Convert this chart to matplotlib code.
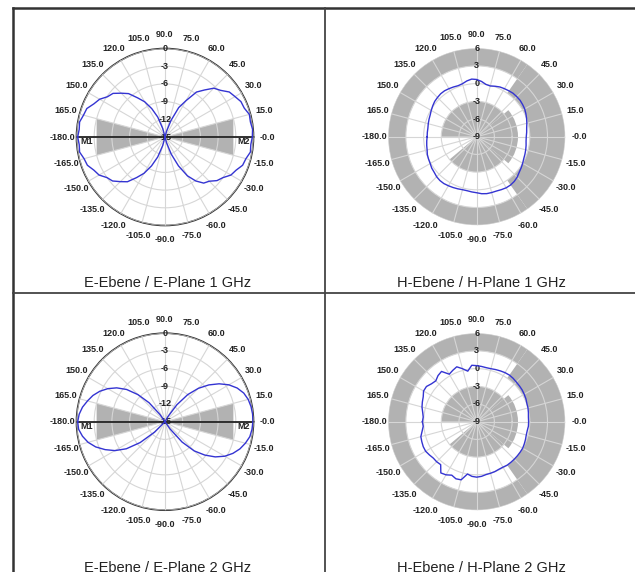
import numpy as np
import matplotlib
matplotlib.use("Agg")
import matplotlib.pyplot as plt
from matplotlib.lines import Line2D

plt.rcParams['font.family'] = ['Liberation Sans', 'DejaVu Sans']

"""
---------- DADOS (lidos da figura)
"""
angulos = list(range(-180, 180, 5))  # graus, passo 5

# E-Ebene 1 GHz, dB (curva ruidosa)
e_1ghz = [-0.2, -0.4, -0.3, -0.8, -1.0, -1.7, -2.1, -3.0, -3.4, -4.3, -5.1, -6.6,
          -7.9, -9.6, -11.4, -13.5, -15.0, -15.0, -15.0, -15.0, -15.0, -14.0, -11.9, -9.6,
          -7.4, -5.9, -4.8, -4.4, -3.5, -3.0, -2.1, -1.7, -1.0, -0.8, -0.3, -0.4,
          -0.2, -0.1, -0.3, -0.2, -0.7, -0.8, -1.3, -1.7, -2.7, -3.3, -4.6, -5.7,
          -7.9, -9.5, -12.0, -14.0, -15.0, -15.0, -15.0, -15.0, -15.0, -13.5, -11.4, -9.7,
          -8.1, -6.9, -5.4, -4.5, -3.5, -3.1, -2.2, -1.7, -0.9, -0.7, -0.3, -0.4]

# E-Ebene 2 GHz, dB
e_2ghz = [-0.2, -0.3, -0.8, -1.5, -2.5, -3.8, -5.2, -7.0, -9.5, -12.5, -15.0, -15.0,
          -15.0, -15.0, -15.0, -15.0, -15.0, -15.0, -15.0, -15.0, -15.0, -15.0, -15.0, -15.0,
          -15.0, -13.5, -10.5, -8.0, -6.2, -4.6, -3.3, -2.3, -1.5, -0.9, -0.4, -0.2,
          -0.1, -0.1, -0.2, -0.4, -0.8, -1.5, -2.5, -3.8, -5.3, -7.0, -9.0, -11.5,
          -14.0, -15.0, -15.0, -15.0, -15.0, -15.0, -15.0, -15.0, -15.0, -15.0, -15.0, -15.0,
          -15.0, -13.5, -10.8, -8.5, -6.5, -5.0, -3.8, -2.8, -2.0, -1.4, -0.8, -0.4]

# H-Ebene 1 GHz, dB
h_1ghz = [-0.6, -0.5, -0.4, -0.3, -0.1, 0.0, 0.1, 0.3, 0.4, 0.6, 0.7, 0.7,
          0.6, 0.5, 0.4, 0.3, 0.3, 0.4, 0.5, 0.7, 0.8, 0.8, 0.8, 0.9,
          1.0, 1.0, 0.9, 0.7, 0.4, 0.2, 0.0, -0.2, -0.3, -0.4, -0.5, -0.6,
          -0.6, -0.5, -0.4, -0.2, 0.0, 0.2, 0.4, 0.5, 0.6, 0.6, 0.6, 0.5,
          0.4, 0.3, 0.1, -0.1, 0.0, 0.4, 0.7, 0.8, 0.6, 0.3, 0.2, 0.3,
          0.4, 0.5, 0.5, 0.4, 0.3, 0.1, -0.1, -0.3, -0.4, -0.5, -0.6, -0.6]

# H-Ebene 2 GHz, dB
h_2ghz = [0.2, 0.1, 0.4, 0.8, 0.9, 1.0, 1.0, 0.8, 0.6, 0.6, 0.5, 1.6,
          1.4, 1.0, 1.3, 1.2, 0.0, 0.3, 0.4, 0.3, 0.1, 0.05, 0.0, -0.1,
          -0.1, 0.0, 0.0, 0.0, 0.0, 0.0, 0.0, -0.1, -0.2, -0.3, -0.3, -0.2,
          -0.2, -0.2, -0.1, 0.0, 0.05, 0.2, 0.3, 0.4, 0.45, 0.5, 0.6, 0.65,
          0.6, 0.5, 0.4, 0.3, 0.3, 0.4, 0.5, 0.6, -0.3, 0.3, 0.9, 0.6,
          0.3, 1.4, 1.2, 0.8, 1.0, 1.4, 1.4, 1.0, 0.8, 0.6, 0.3, 0.1]

# rotulos angulares
ang_ticks = list(range(-180, 180, 15))
ang_labels = ['-180.0', '-165.0', '-150.0', '-135.0', '-120.0', '-105.0', '-90.0', '-75.0',
              '-60.0', '-45.0', '-30.0', '-15.0', '-0.0', '15.0', '30.0', '45.0',
              '60.0', '75.0', '90.0', '105.0', '120.0', '135.0', '150.0', '165.0']

# escalas radiais
e_rticks = [-15, -12, -9, -6, -3, 0]
h_rticks = [-9, -6, -3, 0, 3, 6]

# mascara E: setores (graus) e nivel (dB)
e_mask_ang = [[-15, 15], [165, 195]]
e_mask_db = -3

# mascara H: limite superior e inferior por setor (graus de..ate, dB)
h_max_sect = [[55, 305, 3], [-55, 55, 0]]
h_min_sect = [[-140, -40, -3], [-40, 40, -2], [40, 180, -3]]

titulos = ['E-Ebene / E-Plane 1 GHz', 'H-Ebene / H-Plane 1 GHz',
           'E-Ebene / E-Plane 2 GHz', 'H-Ebene / H-Plane 2 GHz']

"""
------------------------------
"""
W, H = 635, 572
fig = plt.figure(figsize=(W / 100, H / 100), dpi=100)

R = 88.5
centros = [(165, 137), (476.7, 136.7), (165, 421.7), (476.7, 421.7)]
cinza = '#b2b2b2'
azul = '#3434d2'
fonte_tick = dict(fontsize=6.5, fontweight='bold', color='#222222')


def eixo(cx, cy):
    ax = fig.add_axes([(cx - R) / W, 1 - (cy + R) / H, 2 * R / W, 2 * R / H],
                      projection='polar')
    ax.grid(True, color='#d6d6d6', lw=0.8)
    ax.set_axisbelow(False)
    return ax


def acabamento(ax, rticks):
    # eixo angular fechado 0..360 e sem rotulos automaticos
    ax.set_xticks(np.deg2rad(np.mod(ang_ticks, 360)))
    ax.set_xticklabels([])
    ax.set_yticks(rticks)
    ax.set_yticklabels([])
    ax.set_xlim(0, 2 * np.pi)
    ax.set_ylim(rticks[0], rticks[-1])


def rotulos(ax, rmax, span, rticks):
    for a, lab in zip(ang_ticks, ang_labels):
        ax.text(np.deg2rad(a), rmax + 0.157 * span, lab, ha='center', va='center',
                clip_on=False, **fonte_tick)
    for r in rticks:
        ax.text(np.pi / 2, r, str(r), ha='center', va='center', **fonte_tick)


def plano_e(ax, dados):
    for a0, a1 in e_mask_ang:
        ax.fill(np.deg2rad([0, a0, a1]), [-15, e_mask_db, e_mask_db], color=cinza, lw=0, zorder=1)
    t = np.deg2rad(angulos + [angulos[0]])
    ax.plot(t, dados + [dados[0]], color=azul, lw=1.0, zorder=4)
    ax.plot([np.pi, 0], [0, 0], color='#222222', lw=1.3, zorder=3)
    ax.text(np.deg2rad(183.5), -1.7, 'M1', ha='center', va='center', **fonte_tick)
    ax.text(np.deg2rad(-3.5), -1.7, 'M2', ha='center', va='center', **fonte_tick)
    ax.spines['polar'].set_color('#333333')
    ax.spines['polar'].set_linewidth(1.2)
    acabamento(ax, e_rticks)
    rotulos(ax, 0, 15, e_rticks)


def plano_h(ax, dados):
    for a0, a1, lim in h_max_sect:
        ax.bar(np.deg2rad((a0 + a1) / 2), 6 - lim, width=np.deg2rad(a1 - a0), bottom=lim,
               color=cinza, lw=0, zorder=1)
    for a0, a1, lim in h_min_sect:
        ax.bar(np.deg2rad((a0 + a1) / 2), lim + 9, width=np.deg2rad(a1 - a0), bottom=-9,
               color=cinza, lw=0, zorder=1)
    t = np.deg2rad(angulos + [angulos[0]])
    ax.plot(t, dados + [dados[0]], color=azul, lw=1.0, zorder=4)
    ax.spines['polar'].set_visible(False)
    acabamento(ax, h_rticks)
    rotulos(ax, 6, 15, h_rticks)


axs = [eixo(cx, cy) for cx, cy in centros]
plano_e(axs[0], e_1ghz)
plano_h(axs[1], h_1ghz)
plano_e(axs[2], e_2ghz)
plano_h(axs[3], h_2ghz)

# legendas de cada quadro (as de baixo ficam cortadas na borda, como no original)
pos_tit = [(168, 283), (481, 283), (168, 568), (481, 568)]
for (x, y), s in zip(pos_tit, titulos):
    fig.text(x / W, 1 - y / H, s, ha='center', va='center', fontsize=10.5, color='#222222')

# linhas da tabela
cor_tab = '#444444'
fig.add_artist(Line2D([13 / W, 13 / W], [0, 1 - 7.5 / H], color='#333333', lw=1.8))
fig.add_artist(Line2D([13 / W, 1], [1 - 7.5 / H, 1 - 7.5 / H], color='#333333', lw=1.8))
fig.add_artist(Line2D([324.7 / W, 324.7 / W], [0, 1 - 7.5 / H], color=cor_tab, lw=1.3))
fig.add_artist(Line2D([13 / W, 1], [1 - 292.5 / H, 1 - 292.5 / H], color=cor_tab, lw=1.3))

fig.savefig('out.png', dpi=100)
